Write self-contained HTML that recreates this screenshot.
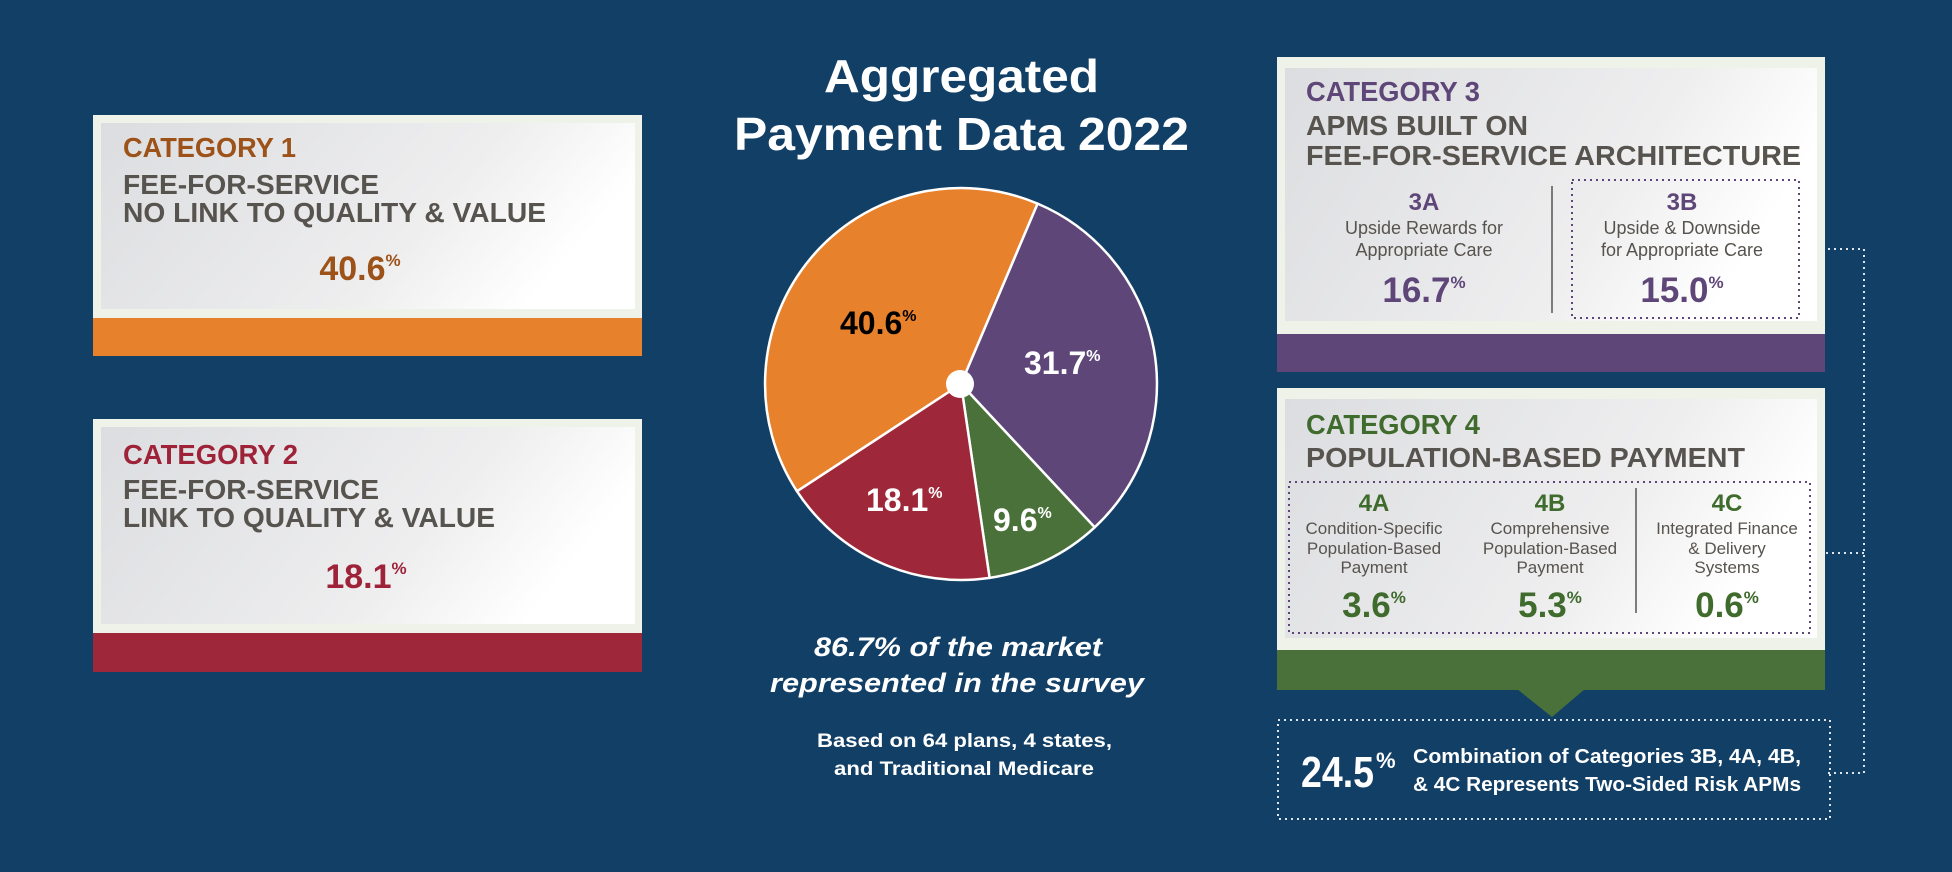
<!DOCTYPE html>
<html><head><meta charset="utf-8"><style>
html,body{margin:0;padding:0;background:#123f66;}
svg{display:block;font-family:"Liberation Sans",Arial,sans-serif;}
</style></head><body>
<svg width="1952" height="872" viewBox="0 0 1952 872" xmlns="http://www.w3.org/2000/svg">
<defs>
<linearGradient id="pg" x1="0" y1="0" x2="1" y2="0.3">
<stop offset="0" stop-color="#dcdde0"/><stop offset="0.7" stop-color="#eeeeef"/><stop offset="1" stop-color="#ffffff"/>
</linearGradient>
</defs>
<rect width="1952" height="872" fill="#123f66"/>

<!-- Card 1 -->
<rect x="93" y="115" width="549" height="241" fill="#eef2e9"/>
<rect x="101" y="123" width="534" height="186" fill="url(#pg)"/>
<rect x="93" y="318" width="549" height="38" fill="#e8812c"/>
<g font-weight="bold" font-size="28">
<text x="123" y="157" fill="#9c5219" textLength="173" lengthAdjust="spacingAndGlyphs">CATEGORY 1</text>
<text x="123" y="194" fill="#57534e" textLength="256" lengthAdjust="spacingAndGlyphs">FEE-FOR-SERVICE</text>
<text x="123" y="222" fill="#57534e" textLength="423" lengthAdjust="spacingAndGlyphs">NO LINK TO QUALITY &amp; VALUE</text>
<text x="360" y="280" fill="#9c5219" font-size="34" text-anchor="middle">40.6<tspan font-size="17" dy="-14">%</tspan></text>
</g>

<!-- Card 2 -->
<rect x="93" y="419" width="549" height="253" fill="#eef2e9"/>
<rect x="101" y="427" width="534" height="197" fill="url(#pg)"/>
<rect x="93" y="633" width="549" height="39" fill="#9e2839"/>
<g font-weight="bold" font-size="28">
<text x="123" y="464" fill="#9e2339" textLength="175" lengthAdjust="spacingAndGlyphs">CATEGORY 2</text>
<text x="123" y="499" fill="#57534e" textLength="256" lengthAdjust="spacingAndGlyphs">FEE-FOR-SERVICE</text>
<text x="123" y="527" fill="#57534e" textLength="372" lengthAdjust="spacingAndGlyphs">LINK TO QUALITY &amp; VALUE</text>
<text x="366" y="588" fill="#9e2339" font-size="34" text-anchor="middle">18.1<tspan font-size="17" dy="-14">%</tspan></text>
</g>

<!-- Title -->
<g fill="#fff" font-weight="bold" font-size="46">
<text x="824" y="92" textLength="275" lengthAdjust="spacingAndGlyphs">Aggregated</text>
<text x="734" y="150" textLength="455" lengthAdjust="spacingAndGlyphs">Payment Data 2022</text>
</g>

<!-- Pie -->
<g stroke="#fff" stroke-width="2.5" stroke-linejoin="round">
<path d="M961 384 L797.0 491.3 A196 196 0 0 1 1037.6 203.6 Z" fill="#e8812c"/>
<path d="M961 384 L1037.6 203.6 A196 196 0 0 1 1094.7 527.3 Z" fill="#5e4778"/>
<path d="M961 384 L1094.7 527.3 A196 196 0 0 1 989.6 577.9 Z" fill="#4a7139"/>
<path d="M961 384 L989.6 577.9 A196 196 0 0 1 797.0 491.3 Z" fill="#9e2839"/>
</g>
<circle cx="960" cy="384" r="14" fill="#fff"/>
<g font-weight="bold" font-size="32">
<text x="840" y="334" fill="#000">40.6<tspan font-size="16" dy="-13">%</tspan></text>
<text x="866" y="511" fill="#fff">18.1<tspan font-size="16" dy="-13">%</tspan></text>
<text x="1024" y="374" fill="#fff">31.7<tspan font-size="16" dy="-13">%</tspan></text>
<text x="993" y="531" fill="#fff">9.6<tspan font-size="16" dy="-13">%</tspan></text>
</g>

<!-- Market text -->
<g fill="#fff" font-weight="bold">
<text x="814" y="656" font-size="27" font-style="italic" textLength="288" lengthAdjust="spacingAndGlyphs">86.7% of the market</text>
<text x="770" y="692" font-size="27" font-style="italic" textLength="374" lengthAdjust="spacingAndGlyphs">represented in the survey</text>
<text x="817" y="747" font-size="19" textLength="295" lengthAdjust="spacingAndGlyphs">Based on 64 plans, 4 states,</text>
<text x="834" y="775" font-size="19" textLength="260" lengthAdjust="spacingAndGlyphs">and Traditional Medicare</text>
</g>

<!-- Card 3 -->
<rect x="1277" y="57" width="548" height="315" fill="#eef2e9"/>
<rect x="1285" y="68" width="532" height="253" fill="url(#pg)"/>
<rect x="1277" y="334" width="548" height="38" fill="#5e4778"/>
<g font-weight="bold" font-size="28">
<text x="1306" y="101" fill="#5e4778" textLength="174" lengthAdjust="spacingAndGlyphs">CATEGORY 3</text>
<text x="1306" y="135" fill="#57534e" textLength="222" lengthAdjust="spacingAndGlyphs">APMS BUILT ON</text>
<text x="1306" y="165" fill="#57534e" textLength="495" lengthAdjust="spacingAndGlyphs">FEE-FOR-SERVICE ARCHITECTURE</text>
</g>
<line x1="1552" y1="186" x2="1552" y2="313" stroke="#555" stroke-width="1.5"/>
<rect x="1572" y="180" width="227" height="138" fill="none" stroke="#5e4778" stroke-width="2" stroke-dasharray="2 4"/>
<g text-anchor="middle">
<text x="1424" y="210" fill="#5e4778" font-size="24" font-weight="bold">3A</text>
<text x="1424" y="234" fill="#57534e" font-size="18">Upside Rewards for</text>
<text x="1424" y="256" fill="#57534e" font-size="18">Appropriate Care</text>
<text x="1424" y="302" fill="#5e4778" font-size="35" font-weight="bold">16.7<tspan font-size="17" dy="-14">%</tspan></text>
<text x="1682" y="210" fill="#5e4778" font-size="24" font-weight="bold">3B</text>
<text x="1682" y="234" fill="#57534e" font-size="18">Upside &amp; Downside</text>
<text x="1682" y="256" fill="#57534e" font-size="18">for Appropriate Care</text>
<text x="1682" y="302" fill="#5e4778" font-size="35" font-weight="bold">15.0<tspan font-size="17" dy="-14">%</tspan></text>
</g>

<!-- Card 4 -->
<rect x="1277" y="388" width="548" height="302" fill="#eef2e9"/>
<rect x="1285" y="399" width="532" height="239" fill="url(#pg)"/>
<rect x="1277" y="650" width="548" height="40" fill="#4a7139"/>
<polygon points="1517,689 1585,689 1552,717" fill="#4a7139"/>
<g font-weight="bold" font-size="28">
<text x="1306" y="434" fill="#3f6b2d" textLength="174" lengthAdjust="spacingAndGlyphs">CATEGORY 4</text>
<text x="1306" y="467" fill="#57534e" textLength="439" lengthAdjust="spacingAndGlyphs">POPULATION-BASED PAYMENT</text>
</g>
<rect x="1289" y="482" width="521" height="151" fill="none" stroke="#5e4778" stroke-width="2" stroke-dasharray="2 4"/>
<line x1="1636" y1="488" x2="1636" y2="613" stroke="#555" stroke-width="1.5"/>
<g text-anchor="middle" font-size="17" fill="#57534e">
<text x="1374" y="511" fill="#3f6b2d" font-size="24" font-weight="bold">4A</text>
<text x="1374" y="534">Condition-Specific</text>
<text x="1374" y="554">Population-Based</text>
<text x="1374" y="573">Payment</text>
<text x="1374" y="617" fill="#3f6b2d" font-size="35" font-weight="bold">3.6<tspan font-size="17" dy="-14">%</tspan></text>
<text x="1550" y="511" fill="#3f6b2d" font-size="24" font-weight="bold">4B</text>
<text x="1550" y="534">Comprehensive</text>
<text x="1550" y="554">Population-Based</text>
<text x="1550" y="573">Payment</text>
<text x="1550" y="617" fill="#3f6b2d" font-size="35" font-weight="bold">5.3<tspan font-size="17" dy="-14">%</tspan></text>
<text x="1727" y="511" fill="#3f6b2d" font-size="24" font-weight="bold">4C</text>
<text x="1727" y="534">Integrated Finance</text>
<text x="1727" y="554">&amp; Delivery</text>
<text x="1727" y="573">Systems</text>
<text x="1727" y="617" fill="#3f6b2d" font-size="35" font-weight="bold">0.6<tspan font-size="17" dy="-14">%</tspan></text>
</g>

<!-- Connectors -->
<g stroke="#dfe6ee" stroke-width="2" stroke-dasharray="2 4" fill="none">
<polyline points="1828,249 1864,249 1864,773 1828,773"/>
<line x1="1826" y1="553" x2="1864" y2="553"/>
<rect x="1278" y="720" width="552" height="99"/>
</g>

<!-- Bottom box -->
<g fill="#fff" font-weight="bold">
<text x="1301" y="787" font-size="44" textLength="73" lengthAdjust="spacingAndGlyphs">24.5</text>
<text x="1376" y="768" font-size="22">%</text>
<text x="1413" y="763" font-size="20" textLength="388" lengthAdjust="spacingAndGlyphs">Combination of Categories 3B, 4A, 4B,</text>
<text x="1413" y="791" font-size="20" textLength="388" lengthAdjust="spacingAndGlyphs">&amp; 4C Represents Two-Sided Risk APMs</text>
</g>
</svg>
</body></html>
